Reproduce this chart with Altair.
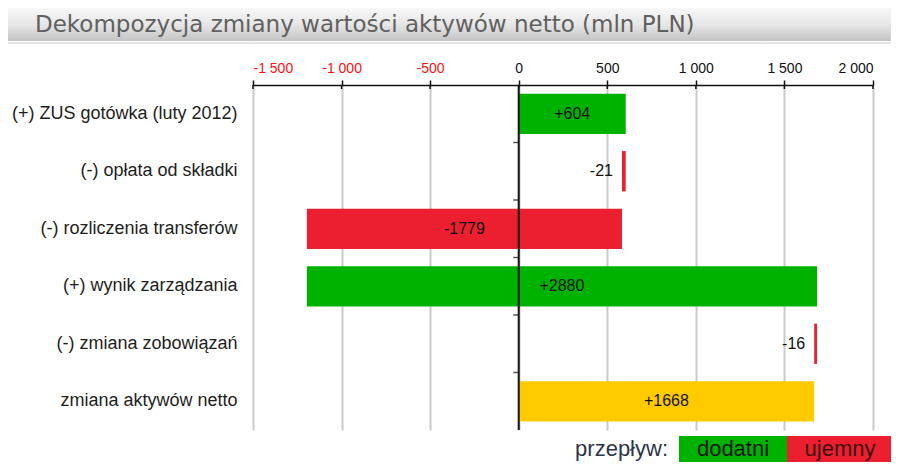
import altair as alt
import pandas as pd

categories = [
    "(+) ZUS gotówka (luty 2012)",
    "(-) opłata od składki",
    "(-) rozliczenia  transferów",
    "(+) wynik zarządzania ",
    "(-) zmiana  zobowiązań",
    "zmiana aktywów netto",
]
changes = [604, -21, -1779, 2880, -16, 1668]
kinds = ["dodatni", "ujemny", "ujemny", "dodatni", "ujemny", "suma"]
labels = ["+604", "-21", "-1779", "+2880", "-16", "+1668"]

tick_values = [-1500, -1000, -500, 0, 500, 1000, 1500, 2000]
tick_labels = ["-1 500", "-1 000", "-500", "0", "500", "1 000", "1 500", "2 000"]

title_text = "Dekompozycja zmiany wartości aktywów netto (mln PLN)"
legend_title = "przepływ:"
legend_items = ["dodatni", "ujemny"]

colors = {"dodatni": "#00b200", "ujemny": "#ec1f31", "suma": "#ffcb00"}

# waterfall start / end
starts, ends = [], []
running = 0
for c, k in zip(changes, kinds):
    if k == "suma":
        starts.append(0)
        ends.append(c)
        running = c
    else:
        starts.append(running)
        running += c
        ends.append(running)

df = pd.DataFrame({
    "cat": categories, "start": starts, "end": ends, "kind": kinds, "label": labels,
})
df["lo"] = df[["start", "end"]].min(axis=1)
df["mid"] = (df["start"] + df["end"]) / 2
df["small"] = (df["end"] - df["start"]).abs() < 100
big = df[~df["small"]]
small = df[df["small"]]

W, H = 620, 345
FONT = "Liberation Sans"

label_expr = "[" + ",".join(f"'{t}'" for t in tick_labels) + "][indexof([" + ",".join(
    str(v) for v in tick_values) + "], datum.value)]"

xscale = alt.Scale(domain=[-1500, 2000], nice=False, zero=False)
yscale = alt.Scale(domain=categories, paddingInner=0.3, paddingOuter=0.15)

xaxis = alt.Axis(
    orient="top", values=tick_values, labelExpr=label_expr, title=None,
    grid=True, gridColor="#c9c9c9", gridWidth=2,
    domainColor="#111111", domainWidth=1.5, tickColor="#111111", tickWidth=1.5,
    tickSize=5, labelPadding=5, labelFont=FONT, labelFontSize=14,
    labelColor=alt.condition("datum.value < 0", alt.value("#ff1010"), alt.value("#111111")),
)
yaxis = alt.Axis(
    title=None, domain=False, ticks=False, labelPadding=16, labelFont=FONT,
    labelFontSize=18, labelColor="#1e1e1e", labelLimit=300,
)

base = alt.Chart(df)

bars = base.mark_bar().encode(
    y=alt.Y("cat:N", scale=yscale, axis=yaxis, sort=categories),
    x=alt.X("start:Q", scale=xscale, axis=xaxis),
    x2="end:Q",
    color=alt.Color("kind:N", scale=alt.Scale(domain=list(colors), range=list(colors.values())), legend=None),
)

big_labels = alt.Chart(big).mark_text(font=FONT, fontSize=16, color="#111111").encode(
    y=alt.Y("cat:N", sort=categories), x="mid:Q", text="label:N"
)
small_labels = alt.Chart(small).mark_text(font=FONT, fontSize=16, color="#111111", align="right", dx=-9).encode(
    y=alt.Y("cat:N", sort=categories), x="lo:Q", text="label:N"
)

zero_line = alt.Chart(pd.DataFrame({"z": [0]})).mark_rule(color="#111111", strokeWidth=2).encode(x="z:Q")

ytick_marks = alt.Chart(pd.DataFrame({"cat": categories[:-1]})).mark_tick(
    orient="horizontal", size=5, thickness=1.5, color="#111111", xOffset=-3, yOffset=H / 6 / 2
).encode(y=alt.Y("cat:N", sort=categories), x=alt.datum(0))

xtick_below = alt.Chart(pd.DataFrame({"v": tick_values})).mark_rule(color="#111111", strokeWidth=1.5).encode(
    x="v:Q", y=alt.value(0), y2=alt.value(4)
)

# title band
grad = alt.LinearGradient(
    gradient="linear", x1=0, y1=0, x2=0, y2=1,
    stops=[alt.GradientStop(offset=0, color="#fbfbfb"),
           alt.GradientStop(offset=0.55, color="#e6e6e6"),
           alt.GradientStop(offset=1, color="#c3c3c3")],
)
deco = alt.Chart(pd.DataFrame({"a": [0]}))
band = deco.mark_rect(color=grad).encode(
    x=alt.value(-248), x2=alt.value(638), y=alt.value(-80), y2=alt.value(-44)
)
band_line = deco.mark_rect(color="#e4e4e4").encode(
    x=alt.value(-248), x2=alt.value(638), y=alt.value(-43), y2=alt.value(-41)
)
title = deco.mark_text(
    text=title_text, font="DejaVu Sans", fontSize=23, color="#606060", align="left", baseline="alphabetic"
).encode(x=alt.value(-218), y=alt.value(-53))

# legend
leg_green = deco.mark_rect(color=colors["dodatni"]).encode(
    x=alt.value(426), x2=alt.value(534), y=alt.value(351), y2=alt.value(380)
)
leg_red = deco.mark_rect(color=colors["ujemny"]).encode(
    x=alt.value(534), x2=alt.value(640), y=alt.value(351), y2=alt.value(380)
)
leg_title = deco.mark_text(
    text=legend_title, font=FONT, fontSize=22, color="#2e3548", align="right", baseline="alphabetic"
).encode(x=alt.value(415), y=alt.value(371))
leg_t1 = deco.mark_text(
    text=legend_items[0], font=FONT, fontSize=22, color="#141414", align="center", baseline="alphabetic"
).encode(x=alt.value(480), y=alt.value(371))
leg_t2 = deco.mark_text(
    text=legend_items[1], font=FONT, fontSize=22, color="#3c0a10", align="center", baseline="alphabetic"
).encode(x=alt.value(587), y=alt.value(371))

chart = alt.layer(
    band, band_line, title, bars, big_labels, small_labels, zero_line, ytick_marks, xtick_below,
    leg_green, leg_red, leg_title, leg_t1, leg_t2,
).properties(
    width=W, height=H,
    autosize=alt.AutoSizeParams(type="none"),
    padding={"left": 245, "top": 77, "right": 18, "bottom": 32},
).configure_view(stroke=None)

chart.save("out.html", embed_options={"renderer": "svg", "actions": False})
